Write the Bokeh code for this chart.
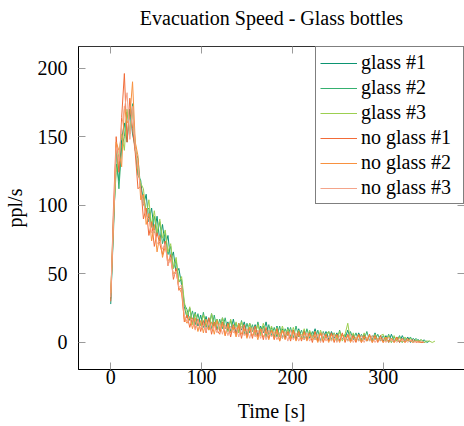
from bokeh.plotting import figure
from bokeh.models import Range1d, FixedTicker, LinearAxis, Legend, LegendItem
from bokeh.embed import file_html
from bokeh.resources import INLINE

# ---- data (sampled every 3 s) ----
STEP = 3
glass_1 = [28, 86, 130, 118, 148, 160, 146, 170, 152, 142,
           122, 118, 100, 108, 88, 98, 80, 92, 74, 86,
           70, 78, 60, 66, 50, 54, 42, 26, 18, 25,
           14, 22, 12, 20, 11, 19, 10, 21, 12, 17,
           9, 18, 10, 15, 8, 17, 7, 14, 9, 15,
           6, 14, 8, 13, 5, 12, 7, 15, 6, 11,
           4, 12, 5, 10, 3, 11, 4, 9, 2, 10,
           3, 9, 2, 8, 4, 10, 2, 7, 3, 8,
           2, 8, 3, 7, 1, 6, 3, 9, 2, 6,
           1, 7, 2, 6, 1, 5, 2, 7, 1, 5,
           1, 5, 0, 6, 1, 4, 0, 5, 1, 4,
           0, 3, 1, 2, 0, 2, 0, 1]
glass_2 = [32, 80, 140, 112, 142, 150, 168, 152, 174, 140,
           134, 112, 106, 96, 98, 84, 92, 78, 88, 72,
           80, 64, 70, 54, 60, 44, 46, 28, 24, 16,
           23, 13, 21, 12, 22, 11, 18, 10, 20, 9,
           17, 10, 18, 8, 16, 9, 14, 7, 16, 6,
           14, 7, 13, 5, 15, 6, 12, 4, 13, 5,
           11, 4, 12, 3, 10, 5, 11, 3, 12, 4,
           9, 2, 10, 3, 8, 2, 9, 1, 8, 3,
           8, 2, 7, 1, 9, 2, 6, 1, 8, 2,
           7, 1, 6, 2, 8, 1, 5, 2, 6, 1,
           5, 1, 6, 0, 4, 1, 5, 0, 3, 1,
           4, 0, 3, 1, 2, 0, 1]
glass_3 = [35, 92, 124, 138, 152, 140, 170, 152, 168, 146,
           124, 116, 112, 92, 104, 84, 96, 80, 90, 76,
           82, 66, 72, 54, 62, 44, 48, 30, 18, 26,
           13, 21, 15, 12, 20, 14, 9, 21, 12, 17,
           10, 18, 11, 8, 17, 9, 15, 7, 15, 9,
           7, 14, 8, 6, 13, 5, 14, 7, 6, 12,
           5, 11, 4, 12, 5, 10, 3, 11, 4, 9,
           3, 10, 2, 9, 3, 8, 1, 9, 3, 6,
           8, 1, 7, 2, 8, 1, 6, 14, 1, 7,
           2, 6, 1, 7, 2, 5, 1, 6, 1, 5,
           6, 1, 5, 0, 5, 1, 4, 0, 4, 1,
           3, 0, 2, 1, 2, 0, 1, 1, 0, 1]
no_glass_1 = [30, 98, 150, 124, 164, 196, 146, 178, 156, 138,
              112, 114, 90, 98, 78, 88, 70, 80, 72, 64,
              74, 56, 64, 46, 54, 38, 40, 15, 20, 11,
              18, 10, 17, 8, 16, 7, 18, 6, 15, 9,
              6, 15, 5, 14, 4, 13, 6, 12, 3, 13,
              4, 11, 3, 12, 4, 10, 2, 11, 3, 9,
              2, 10, 1, 9, 3, 8, 1, 9, 2, 8,
              1, 8, 2, 7, 0, 8, 1, 7, 0, 6,
              1, 7, 0, 6, 1, 7, 0, 6, 1, 5,
              0, 6, 0, 5, 1, 6, 0, 5, 0, 5,
              0, 4, 1, 3, 0, 4, 0, 3, 0, 3,
              1, 2, 0, 1, 0, 0]
no_glass_2 = [36, 84, 146, 140, 128, 172, 160, 164, 190, 146,
              136, 104, 108, 86, 94, 74, 86, 66, 78, 62,
              70, 60, 60, 50, 52, 40, 36, 17, 14, 19,
              10, 18, 8, 16, 7, 17, 9, 15, 6, 16,
              8, 14, 5, 13, 7, 11, 4, 14, 6, 10,
              3, 11, 5, 9, 2, 10, 4, 8, 2, 9,
              3, 8, 1, 9, 2, 7, 3, 8, 1, 6,
              2, 7, 1, 6, 2, 5, 0, 7, 1, 5,
              0, 6, 1, 5, 0, 6, 1, 5, 0, 4,
              1, 5, 0, 4, 1, 5, 0, 4, 1, 3,
              0, 4, 0, 3, 0, 3, 1, 2, 0, 2,
              1, 0, 1, 0, 0]
no_glass_3 = [33, 90, 142, 132, 158, 170, 182, 148, 172, 142,
              128, 110, 102, 92, 90, 80, 82, 72, 74, 68,
              72, 56, 62, 48, 52, 40, 42, 20, 15, 16,
              17, 9, 16, 10, 13, 8, 15, 9, 12, 7,
              14, 6, 13, 5, 12, 7, 11, 4, 12, 5,
              10, 3, 11, 4, 9, 3, 10, 2, 9, 4,
              8, 2, 7, 3, 8, 1, 9, 2, 7, 1,
              6, 2, 7, 1, 5, 2, 6, 0, 7, 1,
              5, 1, 6, 0, 5, 2, 4, 1, 6, 0,
              4, 1, 5, 0, 4, 1, 5, 0, 3, 1,
              3, 0, 4, 1, 2, 0, 3, 1, 2, 0,
              2, 0, 1, 0, 1, 0]

title_text = "Evacuation Speed - Glass bottles"
series_labels = ["glass #1", "glass #2", "glass #3", "no glass #1", "no glass #2", "no glass #3"]
series_values = [glass_1, glass_2, glass_3, no_glass_1, no_glass_2, no_glass_3]
series_colors = ["#0b9471", "#35b06f", "#9ccf50", "#f26b38", "#f8913f", "#f4a48a"]
x_ticks = [0, 100, 200, 300]
y_ticks = [0, 50, 100, 150, 200]

FONT = "Liberation Serif"

p = figure(output_backend="svg", toolbar_location=None, title_location=None,
           frame_width=386, frame_height=323,
           min_border_left=69, min_border_right=1, min_border_top=46, min_border_bottom=50,
           x_range=Range1d(-35.5, 389.5), y_range=Range1d(-19.7, 215.7),
           x_axis_label="Time [s]", y_axis_label="ppl/s")

p.xgrid.visible = False
p.ygrid.visible = False
p.outline_line_color = "#333333"
p.outline_line_width = 1
p.background_fill_color = "white"
p.border_fill_color = "white"

p.xaxis.ticker = FixedTicker(ticks=x_ticks)
p.yaxis.ticker = FixedTicker(ticks=y_ticks)

for ax in [p.xaxis[0], p.yaxis[0]]:
    ax.major_tick_in = 7
    ax.major_tick_out = 0
    ax.minor_tick_line_color = None
    ax.major_tick_line_color = "#9a9a9a"
    ax.axis_line_color = "black"
    ax.major_label_text_font = FONT
    ax.major_label_text_font_size = "20px"
    ax.major_label_text_color = "black"
    ax.axis_label_text_font = FONT
    ax.axis_label_text_font_size = "20px"
    ax.axis_label_text_font_style = "normal"
    ax.axis_label_text_color = "black"
p.xaxis[0].major_label_standoff = 0
p.xaxis[0].axis_label_standoff = 13
p.yaxis[0].major_label_standoff = 11
p.yaxis[0].axis_label_standoff = 9

# mirrored ticks on top (carrying the chart title) and right
top_ax = LinearAxis(ticker=FixedTicker(ticks=x_ticks), axis_label=title_text)
right_ax = LinearAxis(ticker=FixedTicker(ticks=y_ticks))
for ax in [top_ax, right_ax]:
    ax.major_tick_in = 7
    ax.major_tick_out = 0
    ax.minor_tick_line_color = None
    ax.major_tick_line_color = "#9a9a9a"
    ax.axis_line_color = None
    ax.major_label_text_font_size = "0px"
    ax.major_label_standoff = 0
    ax.major_label_text_alpha = 0
top_ax.axis_label_text_font = FONT
top_ax.axis_label_text_font_size = "20px"
top_ax.axis_label_text_font_style = "normal"
top_ax.axis_label_text_color = "black"
top_ax.axis_label_standoff = 18
p.add_layout(top_ax, "above")
p.add_layout(right_ax, "right")

renderers = []
for vals, col in zip(series_values, series_colors):
    xs = [STEP * i for i in range(len(vals))]
    r = p.line(xs, vals, line_color=col, line_width=1)
    renderers.append(r)

legend = Legend(items=[LegendItem(label=lab, renderers=[r]) for lab, r in zip(series_labels, renderers)],
                location="top_right", margin=0, padding=4, spacing=2,
                glyph_width=37, glyph_height=22, label_height=22, label_width=98, label_standoff=4,
                label_text_font=FONT, label_text_font_size="20px", label_text_color="black",
                border_line_color="black", border_line_width=1,
                background_fill_color="white", background_fill_alpha=1)
p.add_layout(legend)

open("out.html", "w").write(file_html(p, INLINE))
